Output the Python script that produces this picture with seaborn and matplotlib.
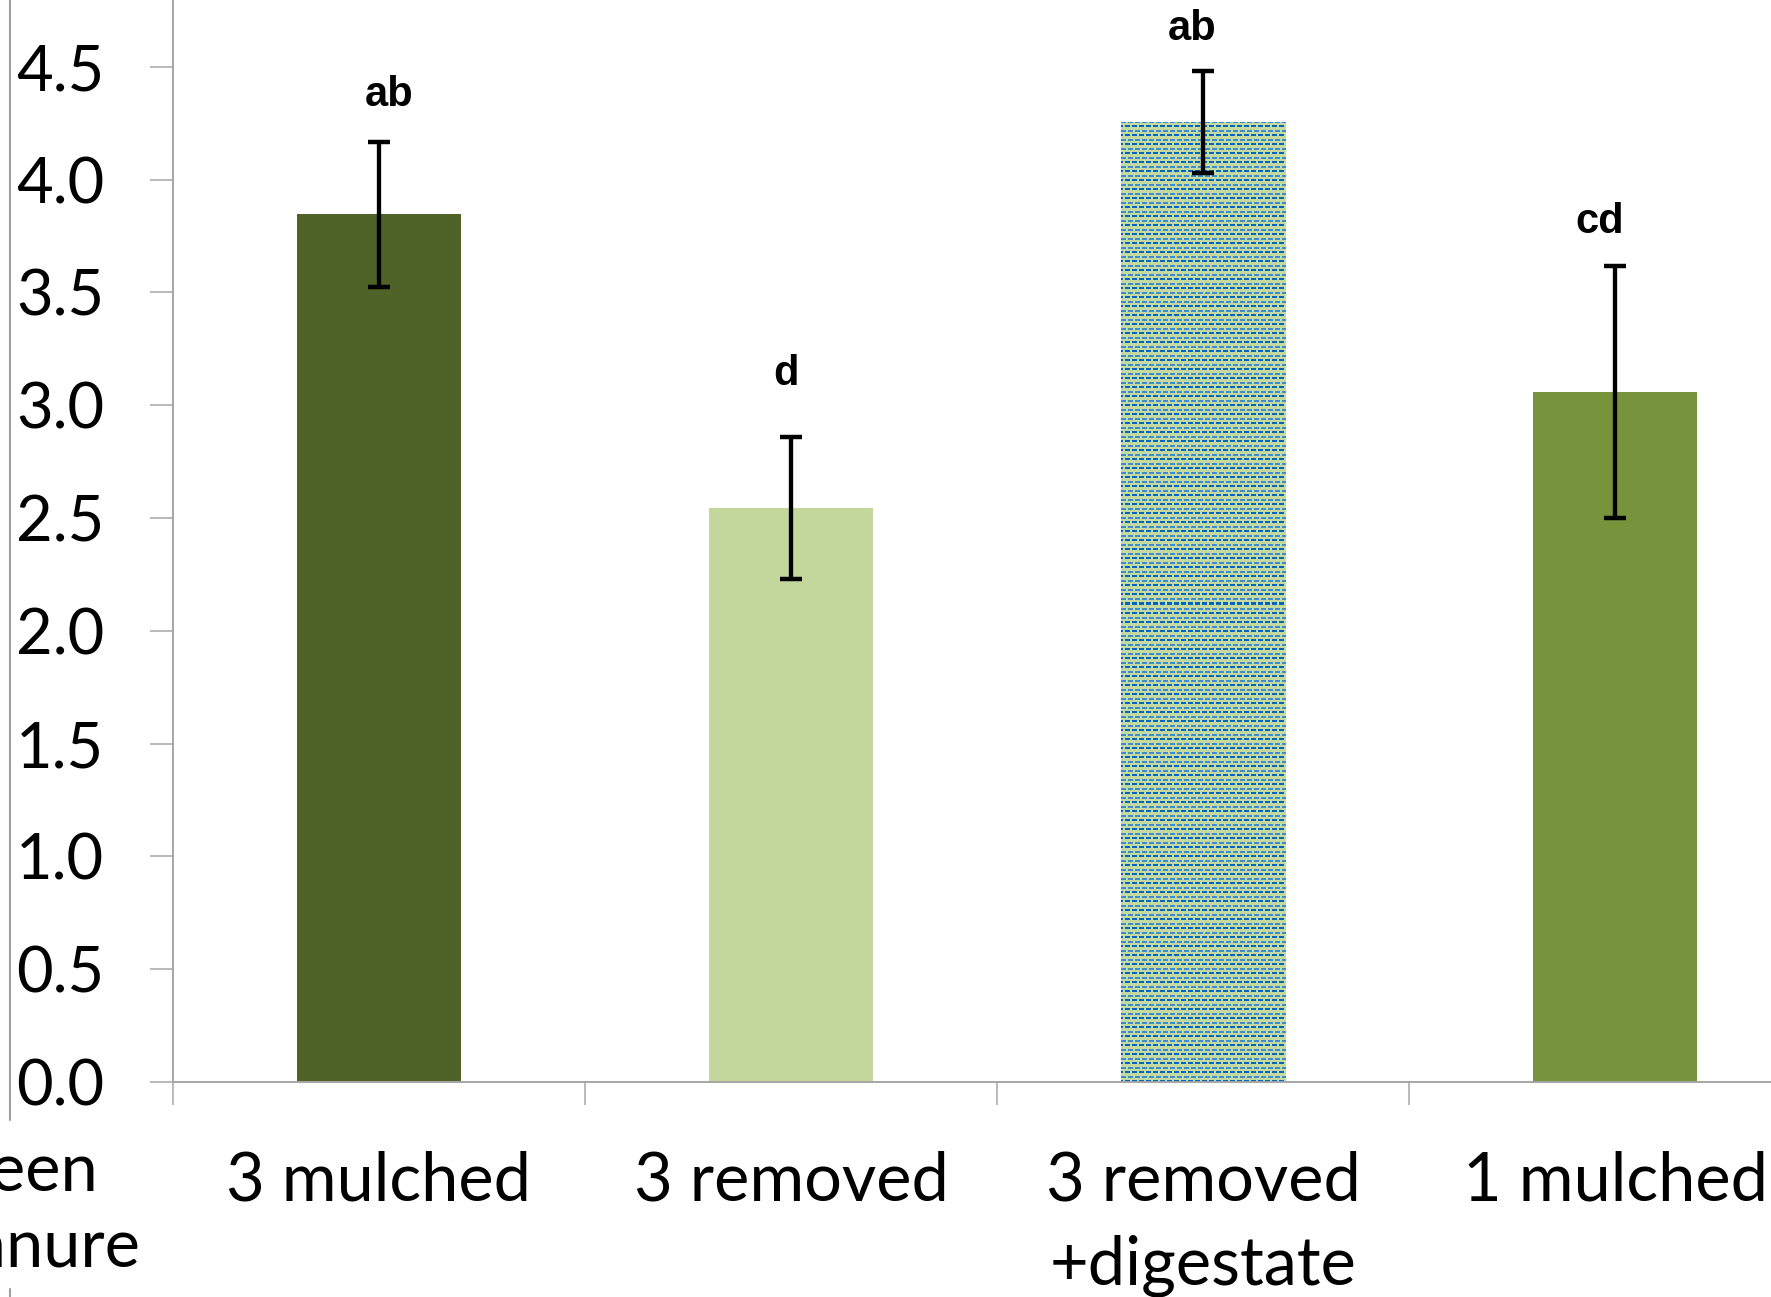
import numpy as np
import pandas as pd
import matplotlib
matplotlib.use("Agg")
import matplotlib.pyplot as plt
from matplotlib.lines import Line2D
import seaborn as sns

# Treatments, mean values, error half-widths and significance letters
categories = ["3 mulched", "3 removed", "3 removed\n+digestate", "1 mulched"]
means = [3.846, 2.545, 4.256, 3.059]
errors = [0.321, 0.314, 0.225, 0.558]
letters = ["ab", "d", "ab", "cd"]
yticks = [0.0, 0.5, 1.0, 1.5, 2.0, 2.5, 3.0, 3.5, 4.0, 4.5]

bar_colors = ["#4F6228", "#C3D69B", "#C4D79E", "#77933C"]

W, H, DPI = 1771, 1297, 100
AX_LEFT, AX_ZERO = 173, 1082          # pixel x of the y-axis, pixel y of zero
PX_PER_CAT, PX_PER_UNIT = 412, 225.6
FS = 48

sns.set_theme(style="white")
plt.rcParams["font.family"] = ["Lato", "DejaVu Sans"]

fig = plt.figure(figsize=(W / DPI, H / DPI), dpi=DPI, facecolor="white")
ax = fig.add_axes([AX_LEFT / W, (H - AX_ZERO) / H, 1 - AX_LEFT / W, AX_ZERO / H])

df = pd.DataFrame({"treatment": categories, "value": means})
sns.barplot(data=df, x="treatment", y="value", hue="treatment",
            palette=bar_colors, width=0.4, errorbar=None, legend=False,
            saturation=1, linewidth=0, ax=ax)

xlim = (-0.5, -0.5 + (W - AX_LEFT) / PX_PER_CAT)
ylim = (0, AX_ZERO / PX_PER_UNIT)
ax.set_xlim(*xlim)
ax.set_ylim(*ylim)

# Dashed-pattern fill for the digestate bar
bar3 = ax.patches[2]
x0, x1 = bar3.get_x(), bar3.get_x() + bar3.get_width()
top = bar3.get_height()
p0 = ax.transData.transform((x0, 0))
p1 = ax.transData.transform((x1, top))
w_px = int(round(p1[0] - p0[0]))
h_px = int(round(p1[1] - p0[1]))

bg = np.array([0xC6, 0xD9, 0x9F]) / 255
light = np.array([0x3C, 0x8D, 0xD0]) / 255
dark = np.array([0x00, 0x66, 0xC0]) / 255
tile = np.tile(bg, (9, 7, 1))
tile[0:2, 0:5] = light
tile[4:6, 4:7] = dark
tile[4:6, 0:2] = dark
tex = np.tile(tile, (h_px // 9 + 2, w_px // 7 + 2, 1))[:h_px, :w_px]
im = ax.imshow(tex, extent=(x0, x1, 0, top), aspect="auto",
               interpolation="nearest", origin="upper",
               zorder=bar3.get_zorder() + 0.01)
im.set_clip_path(bar3)
ax.set_xlim(*xlim)
ax.set_ylim(*ylim)

# Error bars
ax.errorbar(range(len(means)), means, yerr=errors, fmt="none", ecolor="black",
            elinewidth=3.1, capsize=8, capthick=3.2, zorder=5)

# Significance letters
label_dx = [0.024, -0.012, -0.027, -0.036]
label_gap = [0.16, 0.23, 0.14, 0.145]
for i, (m, e, lab) in enumerate(zip(means, errors, letters)):
    ax.text(i + label_dx[i], m + e + label_gap[i], lab, ha="center",
            va="baseline", fontsize=30, fontweight="bold",
            family=["Liberation Sans", "DejaVu Sans"], color="black", zorder=6)

# Axes styling
grey = "#A6A6A6"
for side in ("top", "right"):
    ax.spines[side].set_visible(False)
for side in ("left", "bottom"):
    ax.spines[side].set_color(grey)
    ax.spines[side].set_linewidth(1.4)

ax.set_yticks(yticks)
ax.set_yticklabels([f"{v:.1f}" for v in yticks])
ax.tick_params(axis="y", direction="out", length=16.5, width=1.1, color=grey,
               pad=33, labelsize=45.5, labelcolor="black", left=True)

ax.set_xticks(range(len(categories)))
ax.set_xticklabels(categories)
ax.set_xticks([-0.5, 0.5, 1.5, 2.5], minor=True)
ax.tick_params(axis="x", which="major", length=0, pad=49, labelsize=FS,
               labelcolor="black")
ax.tick_params(axis="x", which="minor", direction="out", length=16.5,
               width=1.1, color=grey, bottom=True)
for t in ax.get_xticklabels():
    t.set_linespacing(1.45)
ax.set_xlabel("")
ax.set_ylabel("")

# Axis title at the lower left (runs past the left edge of the figure)
renderer = fig.canvas.get_renderer()
t_manure = fig.text(140 / W, (H - 1267) / H, "manure", ha="right",
                    va="baseline", fontsize=FS, color="black")
bb = t_manure.get_window_extent(renderer)
fig.text(bb.x0 / W, (H - 1192) / H, "Green", ha="left", va="baseline",
         fontsize=FS, color="black")

# Thin frame line along the left edge
fig.add_artist(Line2D([10 / W, 10 / W], [(H - 1120) / H, 1.0],
                      transform=fig.transFigure, color="#A0A0A0", lw=1.5))
fig.add_artist(Line2D([10 / W, 10 / W], [0.0, 8 / H],
                      transform=fig.transFigure, color="#A0A0A0", lw=1.5))

fig.savefig("out.png", dpi=DPI, facecolor="white")
